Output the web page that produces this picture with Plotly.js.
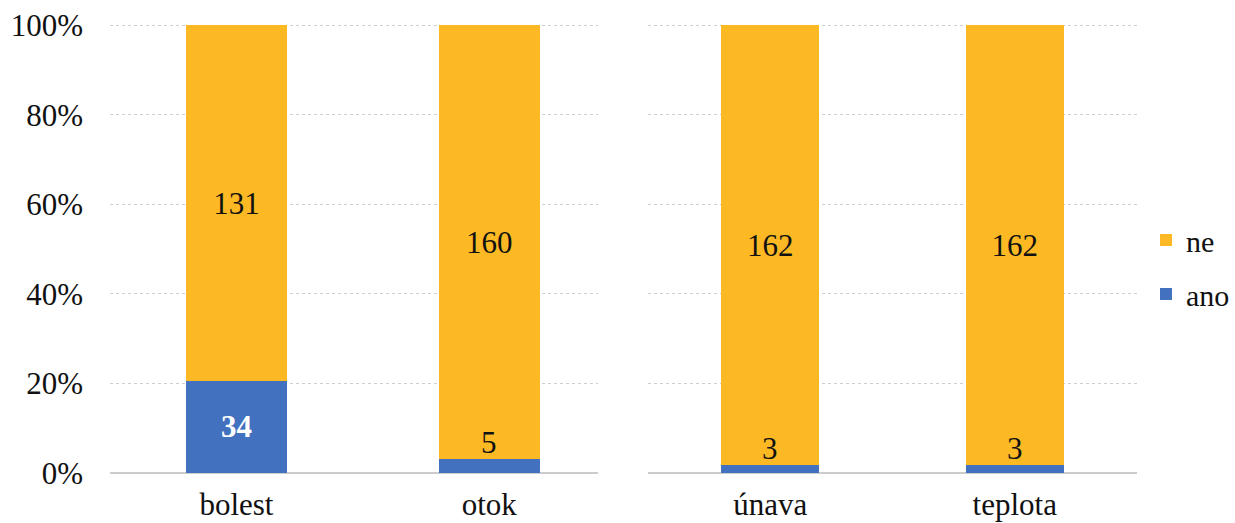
<!DOCTYPE html>
<html>
<head>
<meta charset="utf-8">
<script src="https://cdn.plot.ly/plotly-3.0.1.min.js"></script>
<style>html,body{margin:0;padding:0;background:#fff;}#chart{width:1235px;height:523px;}</style>
</head>
<body>
<div id="chart"></div>
<script>
const categoriesLeft = ['bolest', 'otok'];
const categoriesRight = ['únava', 'teplota'];
const anoLeft = [34, 5];
const neLeft = [131, 160];
const anoRight = [3, 3];
const neRight = [162, 162];
const seriesNames = ['ano', 'ne'];

const YELLOW = '#FDB924';
const BLUE = '#4271C0';
const FONT = 'Liberation Serif';
const FS = 31;

function pct(a, n) { return a.map((v, i) => 100 * v / (v + n[i])); }
function insideText(a, n) { return a.map((v, i) => (100 * v / (v + n[i]) > 10 ? String(v) : '')); }

const traces = [
  {type: 'bar', name: seriesNames[0], x: categoriesLeft, y: anoLeft, xaxis: 'x', yaxis: 'y',
   marker: {color: BLUE}, legendgroup: 'ano', legendrank: 2, showlegend: true, width: 0.4,
   text: insideText(anoLeft, neLeft), textposition: 'inside', insidetextanchor: 'middle',
   textfont: {family: FONT, size: FS, color: '#ffffff', weight: 'bold'}},
  {type: 'bar', name: seriesNames[1], x: categoriesLeft, y: neLeft, xaxis: 'x', yaxis: 'y',
   marker: {color: YELLOW}, legendgroup: 'ne', legendrank: 1, showlegend: true, width: 0.4,
   text: neLeft.map(String), textposition: 'inside', insidetextanchor: 'middle',
   textfont: {family: FONT, size: FS, color: '#111111'}},
  {type: 'bar', name: seriesNames[0], x: categoriesRight, y: anoRight, xaxis: 'x2', yaxis: 'y2',
   marker: {color: BLUE}, legendgroup: 'ano', legendrank: 2, showlegend: false, width: 0.4,
   text: insideText(anoRight, neRight), textposition: 'inside',
   textfont: {family: FONT, size: FS, color: '#ffffff'}},
  {type: 'bar', name: seriesNames[1], x: categoriesRight, y: neRight, xaxis: 'x2', yaxis: 'y2',
   marker: {color: YELLOW}, legendgroup: 'ne', legendrank: 1, showlegend: false, width: 0.4,
   text: neRight.map(String), textposition: 'inside', insidetextanchor: 'middle',
   textfont: {family: FONT, size: FS, color: '#111111'}}
];

const annotations = [];
function addSmall(cats, a, n, xref, yref) {
  const p = pct(a, n);
  cats.forEach((c, i) => {
    if (p[i] <= 10) {
      annotations.push({x: c, y: p[i], xref: xref, yref: yref, text: String(a[i]),
        showarrow: false, yanchor: 'bottom', yshift: -3,
        font: {family: FONT, size: FS, color: '#111111'}});
    }
  });
}
addSmall(categoriesLeft, anoLeft, neLeft, 'x', 'y');
addSmall(categoriesRight, anoRight, neRight, 'x2', 'y2');

const YTOP = 100.3;
const yDomain = [1 - 473/523, 1 - 24/523];
const gridStyle = {showgrid: true, gridcolor: '#cfcfcf', griddash: 'dot', gridwidth: 1,
  zeroline: true, zerolinecolor: '#cccccc', zerolinewidth: 2, showline: false,
  range: [0, YTOP], tickmode: 'linear', tick0: 0, dtick: 20, ticksuffix: '%', fixedrange: true};

const layout = {
  width: 1235, height: 523,
  margin: {l: 0, r: 0, t: 0, b: 0},
  paper_bgcolor: '#ffffff', plot_bgcolor: '#ffffff',
  barmode: 'stack', barnorm: 'percent',
  font: {family: FONT, size: FS, color: '#111111'},
  xaxis: {domain: [110/1235, 598/1235], range: [-0.5, 1.43], type: 'category', showgrid: false,
    showline: false, ticks: '', ticklabelstandoff: 10, tickfont: {family: FONT, size: FS, color: '#111111'}},
  xaxis2: {domain: [648/1235, 1137/1235], range: [-0.5, 1.5], type: 'category', showgrid: false,
    showline: false, ticks: '', ticklabelstandoff: 10, tickfont: {family: FONT, size: FS, color: '#111111'}, anchor: 'y2'},
  yaxis: Object.assign({}, gridStyle, {domain: yDomain, ticks: '', ticklabelstandoff: 26,
    tickfont: {family: FONT, size: FS, color: '#111111'}}),
  yaxis2: Object.assign({}, gridStyle, {domain: yDomain, anchor: 'x2', showticklabels: false, ticks: ''}),
  legend: {x: 1146/1235, xanchor: 'left', y: 1 - 267/523, yanchor: 'middle', traceorder: 'grouped',
    tracegroupgap: 12, font: {family: FONT, size: 30, color: '#111111'}, itemwidth: 30, bgcolor: 'rgba(0,0,0,0)'},
  annotations: annotations,
  showlegend: true
};

Plotly.newPlot('chart', traces, layout, {displayModeBar: false, staticPlot: true});
</script>
</body>
</html>
